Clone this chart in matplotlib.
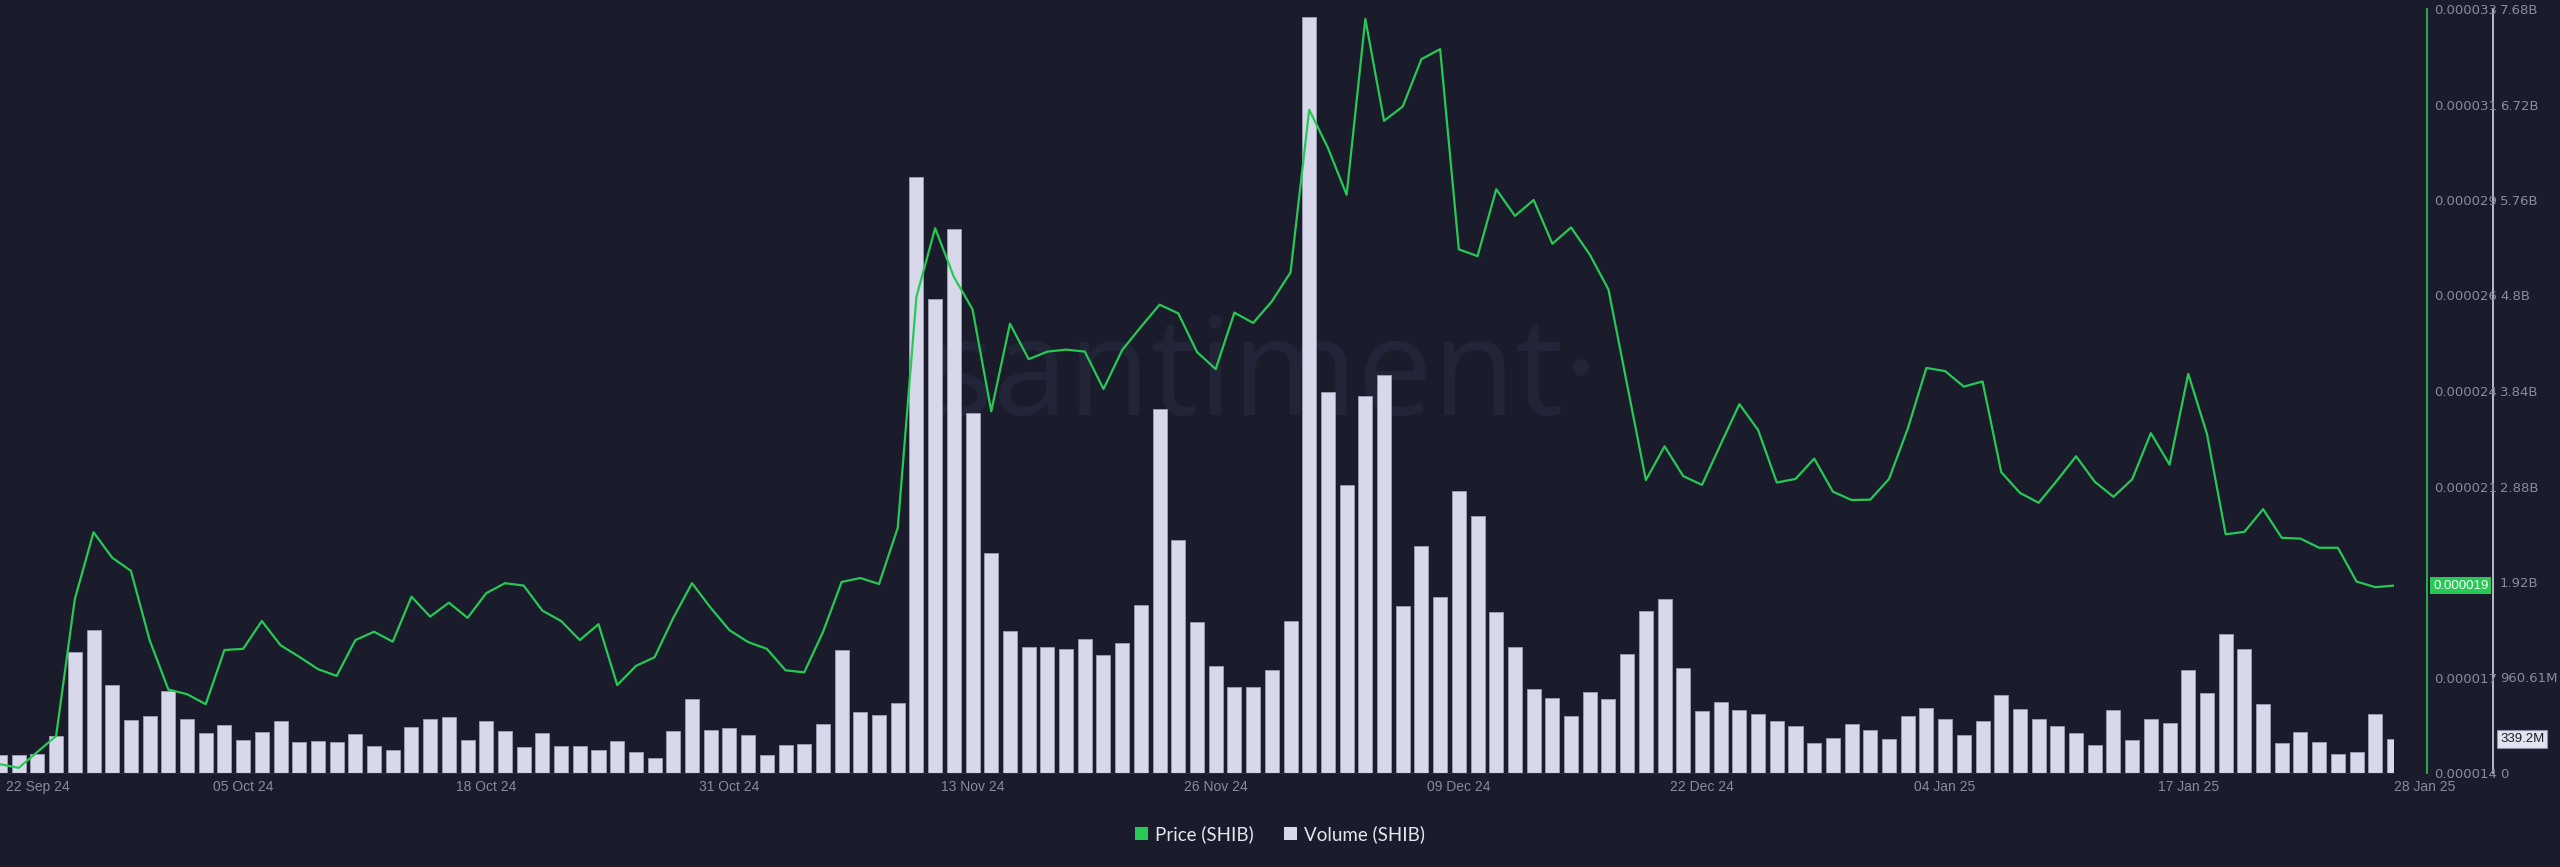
"""
SHIB price vs daily volume, Santiment-style dark chart (22 Sep 24 - 28 Jan 25).
"""
import numpy as np
import pandas as pd
import matplotlib
matplotlib.use("Agg")
import matplotlib.pyplot as plt
import matplotlib.dates as mdates
import matplotlib.transforms as mtransforms
from matplotlib.patches import Patch
from matplotlib.ticker import FixedLocator, FuncFormatter

# ---- data ----
dates = pd.date_range("2024-09-22", "2025-01-28", freq="D")

# price in units of 1e-6 USD
price = [
    14.42, 14.33, 14.73, 15.13, 18.57, 20.25, 19.61, 19.28, 17.54, 16.30,
    16.18, 15.93, 17.29, 17.32, 18.02, 17.41, 17.12, 16.81, 16.64, 17.54,
    17.75, 17.50, 18.63, 18.13, 18.48, 18.10, 18.72, 18.97, 18.91, 18.28,
    18.02, 17.54, 17.94, 16.41, 16.89, 17.11, 18.10, 18.97, 18.35, 17.79,
    17.49, 17.32, 16.78, 16.73, 17.74, 19.00, 19.10, 18.95, 20.36, 26.17,
    27.89, 26.67, 25.85, 23.29, 25.49, 24.60, 24.79, 24.84, 24.79, 23.85,
    24.83, 25.41, 25.97, 25.75, 24.78, 24.35, 25.77, 25.51, 26.05, 26.78,
    30.87, 29.91, 28.73, 33.15, 30.59, 30.95, 32.14, 32.39, 27.36, 27.19,
    28.87, 28.20, 28.60, 27.50, 27.91, 27.23, 26.35, 23.96, 21.56, 22.41,
    21.66, 21.44, 22.46, 23.47, 22.82, 21.50, 21.59, 22.10, 21.27, 21.06,
    21.07, 21.59, 22.85, 24.38, 24.30, 23.91, 24.04, 21.76, 21.24, 20.99,
    21.56, 22.16, 21.52, 21.14, 21.58, 22.74, 21.95, 24.23, 22.72, 20.20,
    20.26, 20.83, 20.11, 20.09, 19.86, 19.86, 19.01, 18.87, 18.91,
]

# volume in billions
volume = [
    0.178, 0.178, 0.188, 0.372, 1.22, 1.44, 0.888, 0.533, 0.577, 0.828,
    0.543, 0.399, 0.486, 0.329, 0.409, 0.52, 0.309, 0.325, 0.315, 0.389,
    0.268, 0.234, 0.46, 0.543, 0.56, 0.335, 0.526, 0.425, 0.258, 0.402,
    0.268, 0.27, 0.228, 0.319, 0.211, 0.148, 0.419, 0.741, 0.43, 0.448,
    0.382, 0.181, 0.282, 0.29, 0.488, 1.239, 0.609, 0.588, 0.702, 5.99,
    4.77, 5.47, 3.62, 2.21, 1.425, 1.263, 1.263, 1.25, 1.348, 1.183,
    1.308, 1.688, 3.66, 2.343, 1.522, 1.081, 0.863, 0.87, 1.04, 1.532,
    7.60, 3.83, 2.893, 3.79, 4.00, 1.675, 2.28, 1.77, 2.84, 2.59,
    1.62, 1.264, 0.845, 0.759, 0.574, 0.81, 0.744, 1.195, 1.63, 1.755,
    1.059, 0.624, 0.719, 0.63, 0.594, 0.524, 0.469, 0.304, 0.354, 0.494,
    0.434, 0.339, 0.569, 0.656, 0.54, 0.382, 0.52, 0.781, 0.644, 0.54,
    0.476, 0.399, 0.278, 0.63, 0.329, 0.54, 0.503, 1.033, 0.808, 1.401,
    1.247, 0.691, 0.305, 0.415, 0.315, 0.188, 0.211, 0.593, 0.3392,
]

tick_dates = ["2024-09-22", "2024-10-05", "2024-10-18", "2024-10-31", "2024-11-13",
              "2024-11-26", "2024-12-09", "2024-12-22", "2025-01-04", "2025-01-17",
              "2025-01-28"]

price_min, price_max, price_step = 14.2, 33.4, 2.4     # 1e-6
vol_max = 7.6849                                         # billions
last_price_label = "0.000019"
last_volume_label = "339.2M"

# ---- style ----
BG = "#1a1c2b"
GREEN = "#26c955"
BAR = "#d7d9ea"
BAR_EDGE = "#9c9fb4"
TICK = "#868b9f"
WATERMARK = "#222537"
TICK_FONT = "Liberation Sans"

W, H, DPI = 2560, 867, 100
px = 72 / DPI   # points per pixel

fig = plt.figure(figsize=(W / DPI, H / DPI), dpi=DPI, facecolor=BG)
ax_v = fig.add_axes([0, (H - 773) / H, 2394 / W, 764 / H])
ax_v.set_facecolor(BG)
ax_p = ax_v.twinx()
ax_p.set_facecolor("none")

x = mdates.date2num(dates)

# watermark behind everything
ax_v.text(0.528, 0.515, "santiment\u00b7", transform=ax_v.transAxes, ha="center",
          va="center", fontsize=97, color=WATERMARK, family="Open Sans", zorder=0)

ax_v.bar(x, volume, width=0.75, color=BAR, edgecolor=BAR_EDGE, linewidth=0.6, zorder=2)
ax_p.plot(x, price, color=GREEN, linewidth=1.6, zorder=3)

ax_v.set_xlim(x[0], x[-1])
ax_v.set_ylim(0, vol_max)
ax_p.set_ylim(price_min, price_max)

# volume axis (outer right)
ax_v.yaxis.tick_right()
vol_ticks = [vol_max * k / 8 for k in range(9)]
ax_v.yaxis.set_major_locator(FixedLocator(vol_ticks))


def fmt_vol(v, _pos):
    if v == 0:
        return "0"
    if v >= 1:
        return f"{v:.2f}".rstrip("0").rstrip(".") + "B"
    return f"{v * 1000:.2f}".rstrip("0").rstrip(".") + "M"


ax_v.yaxis.set_major_formatter(FuncFormatter(fmt_vol))
ax_v.tick_params(axis="y", length=0, pad=7 * px, labelsize=9.5, labelcolor=TICK)

# price axis (inner right); the tick under the current-price badge is hidden by it
p_ticks = [price_min + price_step * k for k in range(9)]
badge_tick = round(price[-1] / price_step * 0 + (price_min + price_step * 2), 6)


def fmt_price(v, _p):
    if abs(v - badge_tick) < 1e-9:
        return ""
    return f"{v * 1e-6:.6f}"


ax_p.yaxis.set_major_locator(FixedLocator(p_ticks))
ax_p.yaxis.set_major_formatter(FuncFormatter(fmt_price))
ax_p.tick_params(axis="y", length=0, pad=7 * px, labelsize=9.5, labelcolor=TICK)

for lab in ax_v.get_yticklabels() + ax_p.get_yticklabels():
    lab.set_family(TICK_FONT)

# spines
for a in (ax_v, ax_p):
    for s in ("left", "top"):
        a.spines[s].set_visible(False)
ax_p.spines["bottom"].set_visible(False)
ax_v.spines["bottom"].set_color("#2a2d40")
ax_v.spines["right"].set_position(("outward", 99 * px))
ax_v.spines["right"].set_color("#d0d3e2")
ax_v.spines["right"].set_linewidth(1.2)
ax_p.spines["right"].set_position(("outward", 33 * px))
ax_p.spines["right"].set_color(GREEN)
ax_p.spines["right"].set_linewidth(1.2)

# date ticks
tx = mdates.date2num(pd.to_datetime(tick_dates))
ax_v.xaxis.set_major_locator(FixedLocator(tx))
ax_v.xaxis.set_major_formatter(mdates.DateFormatter("%d %b %y"))
ax_v.tick_params(axis="x", length=0, pad=7 * px, labelsize=10, labelcolor=TICK)
labels = ax_v.get_xticklabels()
for lab in labels:
    lab.set_family(TICK_FONT)
labels[0].set_horizontalalignment("left")
labels[0].set_transform(labels[0].get_transform()
                        + mtransforms.ScaledTranslation(6 / DPI, 0, fig.dpi_scale_trans))
labels[-1].set_horizontalalignment("left")

# current value badges
bt = mtransforms.blended_transform_factory(fig.transFigure, ax_p.transData)
fig.text(2433 / W, price[-1], last_price_label, transform=bt, ha="left", va="center",
         fontsize=9.5, color="white", family=TICK_FONT,
         bbox=dict(boxstyle="square,pad=0.22", facecolor=GREEN, edgecolor="none"))
bv = mtransforms.blended_transform_factory(fig.transFigure, ax_v.transData)
fig.text(2500 / W, volume[-1], last_volume_label, transform=bv, ha="left", va="center",
         fontsize=9.5, color="#1a1c2b", family=TICK_FONT,
         bbox=dict(boxstyle="square,pad=0.22", facecolor="#e1e3ef", edgecolor="#8d90a5",
                   linewidth=0.8))

# legend
handles = [Patch(facecolor=GREEN, edgecolor="none", label="Price (SHIB)"),
           Patch(facecolor=BAR, edgecolor="none", label="Volume (SHIB)")]
fig.legend(handles=handles, loc="center", bbox_to_anchor=(0.5, 33 / H), ncol=2,
           frameon=False, handlelength=0.7, handleheight=0.7,
           handletextpad=0.4, columnspacing=1.6, labelcolor="#e4e6f0",
           prop={"family": "Lato", "size": 13.5})

fig.savefig("out.png", dpi=DPI, facecolor=BG)
